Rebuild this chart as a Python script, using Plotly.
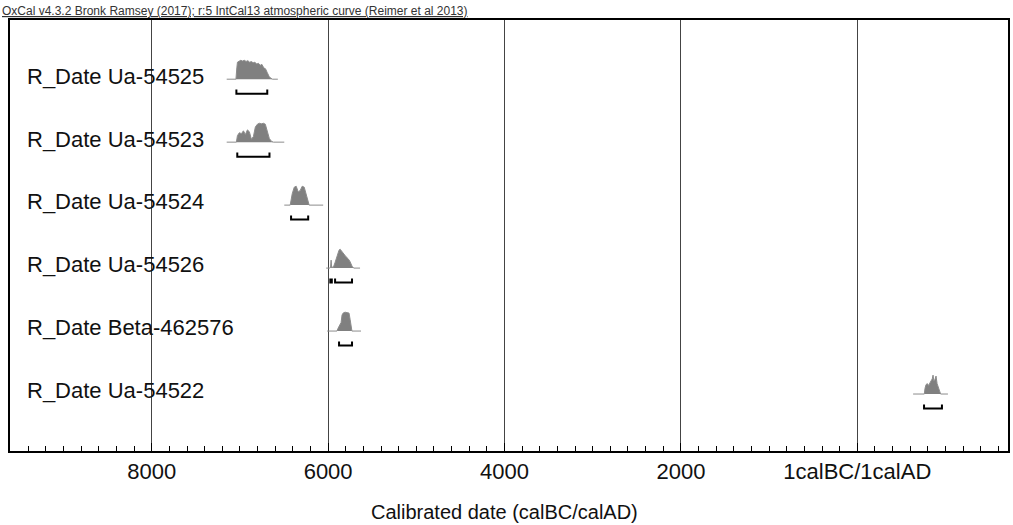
import plotly.graph_objects as go

# ---- data (cal years; BC negative, AD positive) ----
labels = ["R_Date Ua-54525", "R_Date Ua-54523", "R_Date Ua-54524",
          "R_Date Ua-54526", "R_Date Beta-462576", "R_Date Ua-54522"]

yr_54525 = [-7150, -7045, -7035, -7028, -7010, -6990, -6970, -6950, -6930, -6910, -6890, -6870,
            -6850, -6830, -6810, -6790, -6770, -6750, -6730, -6710, -6690, -6670, -6650, -6630, -6570]
p_54525 = [0, 0, 0.6, 0.9, 0.95, 1.0, 0.96, 1.0, 0.94, 0.98, 0.9, 0.93,
           0.87, 0.9, 0.8, 0.84, 0.74, 0.78, 0.6, 0.55, 0.35, 0.15, 0.05, 0, 0]

yr_54523 = [-7150, -7040, -7028, -7006, -6983, -6960, -6938, -6915, -6893, -6870, -6847, -6825,
            -6802, -6780, -6757, -6734, -6712, -6689, -6667, -6644, -6621, -6497]
p_54523 = [0, 0, 0.35, 0.5, 0.45, 0.6, 0.4, 0.65, 0.55, 0.15, 0.3, 0.8,
           0.95, 1.0, 0.97, 1.0, 0.95, 0.6, 0.2, 0.05, 0, 0]

yr_54524 = [-6497, -6430, -6407, -6384, -6362, -6339, -6316, -6294, -6271, -6249, -6226, -6215, -6056]
p_54524 = [0, 0, 0.6, 0.95, 1.0, 0.7, 0.78, 1.0, 0.95, 0.6, 0.1, 0, 0]

yr_54526 = [-6022, -5980, -5972, -5966, -5960, -5940, -5921, -5898, -5876, -5864, -5842, -5819,
            -5797, -5774, -5752, -5729, -5710, -5638]
p_54526 = [0, 0, 0.05, 0.42, 0.05, 0.05, 0.3, 0.65, 0.95, 1.0, 0.85, 0.75,
           0.6, 0.5, 0.35, 0.1, 0, 0]

yr_462576 = [-6011, -5900, -5887, -5870, -5853, -5842, -5830, -5808, -5785, -5763, -5750, -5740, -5730, -5627]
p_462576 = [0, 0, 0.15, 0.3, 0.45, 0.85, 0.95, 1.0, 0.98, 0.95, 0.6, 0.1, 0, 0]

yr_54522 = [633, 760, 768, 780, 795, 810, 825, 840, 850, 859, 868, 880, 893, 905, 920, 935, 945, 1028]
p_54522 = [0, 0, 0.3, 0.5, 0.55, 0.45, 0.6, 0.7, 0.8, 1.0, 0.7, 0.75, 0.95, 0.55, 0.35, 0.1, 0, 0]

years = [yr_54525, yr_54523, yr_54524, yr_54526, yr_462576, yr_54522]
probs = [p_54525, p_54523, p_54524, p_54526, p_462576, p_54522]

# 95.4% ranges (start, end) per date
ranges = [
    [(-7040, -6690)],
    [(-7030, -6665)],
    [(-6420, -6226)],
    [(-5975, -5958), (-5921, -5729)],
    [(-5876, -5729)],
    [(757, 960)],
]

tick_vals = [-8000, -6000, -4000, -2000, 0]
tick_text = ["8000", "6000", "4000", "2000", "1calBC/1calAD"]

title_text = "OxCal v4.3.2 Bronk Ramsey (2017); r:5 IntCal13 atmospheric curve (Reimer et al 2013)"
x_title = "Calibrated date (calBC/calAD)"

# ---- figure ----
H = 0.30      # distribution height (y units)
BOFF = -0.23  # bracket offset
BT = 0.065    # bracket tick height
FONT = "Liberation Sans, Arial, sans-serif"

fig = go.Figure()
n = len(labels)
for i in range(n):
    base = n - 1 - i
    fig.add_trace(go.Scatter(
        x=years[i], y=[base + p * H for p in probs[i]],
        mode="lines", fill="toself", fillcolor="#808080",
        line=dict(color="#8c8c8c", width=1), hoverinfo="skip", showlegend=False))
    for (a, b) in ranges[i]:
        fig.add_trace(go.Scatter(
            x=[a, a, b, b], y=[base + BOFF + BT, base + BOFF, base + BOFF, base + BOFF + BT],
            mode="lines", line=dict(color="black", width=2), hoverinfo="skip", showlegend=False))
    fig.add_annotation(x=-9440, y=base + 0.05, xref="x", yref="y", text=labels[i],
                       showarrow=False, xanchor="left", yanchor="middle",
                       font=dict(family=FONT, size=22, color="#111"))

fig.add_annotation(x=-0.01, y=1.02, xref="paper", yref="paper", text="<u>" + title_text + "</u>",
                   showarrow=False, xanchor="left", yanchor="middle",
                   font=dict(family=FONT, size=12, color="#333"))
fig.add_annotation(x=0.495, y=-0.1415, xref="paper", yref="paper", text=x_title,
                   showarrow=False, xanchor="center", yanchor="middle",
                   font=dict(family=FONT, size=20, color="#111"))

fig.update_layout(
    width=1013, height=525,
    margin=dict(l=10, r=3, t=20, b=74),
    plot_bgcolor="white", paper_bgcolor="white",
    xaxis=dict(range=[-9607, 1709], tickvals=tick_vals, ticktext=tick_text,
               showgrid=True, gridcolor="#444", gridwidth=1, zeroline=False,
               ticks="inside", ticklen=8, tickcolor="black", tickwidth=1,
               minor=dict(dtick=200, tick0=0, ticks="inside", ticklen=5, tickcolor="black", showgrid=False),
               showline=True, linecolor="black", linewidth=2, mirror=True,
               tickfont=dict(family=FONT, size=22, color="#111")),
    yaxis=dict(range=[-0.905, 5.94], showgrid=False, zeroline=False, showticklabels=False,
               showline=True, linecolor="black", linewidth=2, mirror=True, ticks=""),
)

fig.write_html("out.html")
